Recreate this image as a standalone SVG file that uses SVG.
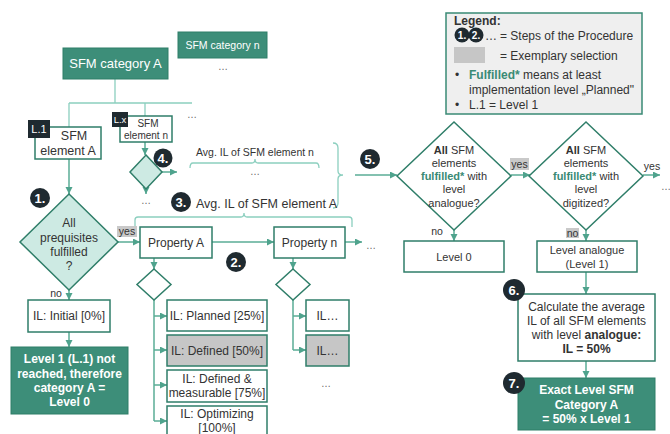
<svg xmlns="http://www.w3.org/2000/svg" width="670" height="434" viewBox="0 0 670 434">
<defs>
<marker id="arr" markerUnits="userSpaceOnUse" markerWidth="8" markerHeight="8" refX="7" refY="3.5" orient="auto">
<path d="M0,0 L7,3.5 L0,7 z" fill="#4fa38d"/>
</marker>
<style>
text{font-family:"Liberation Sans",Arial,sans-serif;font-size:12px;fill:#333;}
.c{text-anchor:middle;}
.w{fill:#fff;}
.b{font-weight:bold;}
.g{fill:#3a8a75;font-weight:bold;}
.box{fill:#fff;stroke:#2f7e69;stroke-width:1.5;}
.gray{fill:#c6c6c6;stroke:#2f7e69;stroke-width:1.5;}
.dark{fill:#3d8e79;stroke:#2f7e69;stroke-width:1;}
.dia{fill:#cdeae3;stroke:#2f7e69;stroke-width:1.5;}
.wdia{fill:#fff;stroke:#2f7e69;stroke-width:1.5;}
.ln{fill:none;stroke:#5aac96;stroke-width:1.5;}
.lt{fill:none;stroke:#8ccfbf;stroke-width:1.3;}
.a{fill:none;stroke:#5aac96;stroke-width:1.5;marker-end:url(#arr);}
.badge{fill:#1f2a30;}
.bt{fill:#fff;font-weight:bold;font-size:13px;text-anchor:middle;}
.dots{fill:#666;font-size:10px;text-anchor:middle;}
.lbl{fill:#c9c9c9;}
</style>
</defs>
<rect width="670" height="434" fill="#fff"/>

<g id="connectors">
<path class="lt" d="M115,79 V103 M69,103 H192 M69,103 V127 M145,103 V116"/>
<path class="a" d="M69,159 V194"/>
<path class="a" d="M145,142 V155"/>
<path class="a" d="M162,172 H177"/>
<path class="a" d="M146,188 V194"/>
<path class="a" d="M118,242 H140"/>
<path class="a" d="M69,289 V300"/>
<path class="a" d="M69,332 V347"/>
<path class="a" d="M212,242 H274"/>
<path class="a" d="M345,242 H362"/>
<path class="a" d="M154,258 V269"/>
<path class="ln" d="M154,300 V421"/>
<path class="a" d="M154,316 H167"/>
<path class="a" d="M154,350 H167"/>
<path class="a" d="M154,385 H167"/>
<path class="a" d="M154,421 H167"/>
<path class="a" d="M293,258 V269"/>
<path class="ln" d="M293,300 V350"/>
<path class="a" d="M293,316 H306"/>
<path class="a" d="M293,350 H306"/>
<path class="lt" d="M135,227 V220 Q135,217 138,217 H241 Q244,217 244,213 Q244,217 247,217 H349 Q352,217 352,220 V227"/>
<path class="lt" d="M190,168 Q190,163 193,163 H252 Q255,163 255,159 Q255,163 258,163 H316 Q319,163 319,168"/>
<path class="lt" d="M333,143 Q338,143 338,148 V171 Q338,175 343,175 Q338,175 338,179 V203 Q338,208 333,208"/>
<path class="a" d="M355,175 H397"/>
<path class="a" d="M511,175 H530"/>
<path class="a" d="M643,175 H660"/>
<path class="a" d="M454,230 V241"/>
<path class="a" d="M586,230 V241"/>
<path class="a" d="M586,272 V294"/>
<path class="a" d="M586,361 V378"/>
</g>

<g id="cat-n">
<rect x="178" y="32" width="89" height="26" class="dark"/>
<text x="222.5" y="49" class="c w" style="font-size:10.5px">SFM category n</text>
<text x="223" y="70" class="dots">…</text>
</g>

<g id="cat-a">
<rect x="63" y="48" width="105" height="31" class="dark"/>
<text x="115.5" y="68" class="c w" style="font-size:13px">SFM category A</text>
</g>
<text x="192" y="118" class="dots">…</text>

<g id="elem-a">
<rect x="35" y="127" width="66" height="32" class="box"/>
<text x="74" y="140" class="c" style="font-size:12.5px">SFM</text>
<text x="68" y="155" class="c" style="font-size:12.5px">element A</text>
<rect x="28" y="120" width="22" height="18" class="badge"/>
<text x="39" y="133" class="c w" style="font-size:11px">L.1</text>
</g>

<g id="elem-n">
<rect x="120" y="116" width="52" height="26" class="box"/>
<text x="148" y="127" class="c" style="font-size:10px">SFM</text>
<text x="146" y="139" class="c" style="font-size:10px">element n</text>
<rect x="112" y="112" width="16" height="15" class="badge"/>
<text x="120" y="123" class="c w" style="font-size:9.5px">L.x</text>
</g>

<g id="dia4">
<path d="M146,155 L162,172 L146,189 L130,172 Z" class="dia"/>
<text x="146" y="204" class="dots">…</text>
</g>

<g id="avg-n">
<text x="255" y="156" class="c" style="font-size:10.5px">Avg. IL of SFM element n</text>
<text x="255" y="175" class="dots">…</text>
</g>

<g id="avg-a">
<text x="196" y="208" style="font-size:12.5px">Avg. IL of SFM element A</text>
</g>

<g id="dia1">
<path d="M69,194 L118,242 L69,290 L20,242 Z" class="dia"/>
<text x="69" y="227" class="c">All</text>
<text x="69" y="242" class="c">prequisites</text>
<text x="69" y="256" class="c">fulfilled</text>
<text x="69" y="270" class="c">?</text>
<rect x="117" y="226" width="20" height="11" class="lbl"/>
<text x="127" y="235" class="c" style="font-size:10.5px">yes</text>
<text x="56" y="297" class="c" style="font-size:10.5px">no</text>
</g>

<g id="initial">
<rect x="28" y="300" width="82" height="32" class="box"/>
<text x="69" y="320" class="c">IL: Initial [0%]</text>
</g>

<g id="level0-a">
<rect x="11" y="347" width="117" height="67" class="dark"/>
<text x="69.5" y="363" class="c w b">Level 1 (L.1) not</text>
<text x="69.5" y="378" class="c w b">reached, therefore</text>
<text x="69.5" y="392" class="c w b">category A =</text>
<text x="69.5" y="406" class="c w b">Level 0</text>
</g>

<g id="prop-a">
<rect x="140" y="227" width="72" height="31" class="box"/>
<text x="176" y="247" class="c">Property A</text>
</g>

<g id="prop-n">
<rect x="274" y="227" width="71" height="31" class="box"/>
<text x="309.5" y="247" class="c">Property n</text>
<text x="371" y="249" class="dots">…</text>
</g>

<g id="dia-pa"><path d="M154,269 L171,284.5 L154,300 L137,284.5 Z" class="wdia"/></g>
<g id="dia-pn"><path d="M293,269 L310,284.5 L293,300 L276,284.5 Z" class="wdia"/></g>

<g id="il-planned">
<rect x="167" y="300" width="100" height="31" class="box"/>
<text x="217" y="320" class="c">IL: Planned [25%]</text>
</g>
<g id="il-defined">
<rect x="167" y="335" width="100" height="31" class="gray"/>
<text x="217" y="355" class="c">IL: Defined [50%]</text>
</g>
<g id="il-measurable">
<rect x="167" y="370" width="100" height="32" class="box"/>
<text x="217" y="383" class="c">IL: Defined &amp;</text>
<text x="217" y="397" class="c">measurable [75%]</text>
</g>
<g id="il-optimizing">
<rect x="167" y="406" width="100" height="36" class="box"/>
<text x="217" y="418" class="c">IL: Optimizing</text>
<text x="217" y="432" class="c">[100%]</text>
</g>

<g id="il-n1">
<rect x="306" y="300" width="43" height="31" class="box"/>
<text x="327.5" y="320" class="c">IL…</text>
</g>
<g id="il-n2">
<rect x="306" y="335" width="43" height="31" class="gray"/>
<text x="327.5" y="355" class="c">IL…</text>
</g>
<text x="326" y="387" class="dots">…</text>

<g id="dia5a">
<path d="M454,122 L511,176 L454,230 L397,176 Z" class="wdia"/>
<text x="454" y="154" class="c" style="font-size:11px"><tspan class="b">All</tspan> SFM</text>
<text x="454" y="167" class="c" style="font-size:11px">elements</text>
<text x="454" y="180" class="c" style="font-size:11px"><tspan class="g">fulfilled*</tspan> with</text>
<text x="454" y="193" class="c" style="font-size:11px">level</text>
<text x="454" y="207" class="c" style="font-size:11px">analogue?</text>
<text x="437" y="235" class="c" style="font-size:10.5px">no</text>
</g>
<rect x="510" y="158" width="19" height="12" class="lbl"/>
<text x="519.5" y="168" class="c" style="font-size:10.5px">yes</text>

<g id="dia5b">
<path d="M586,122 L643,176 L586,230 L529,176 Z" class="wdia"/>
<text x="586" y="154" class="c" style="font-size:11px"><tspan class="b">All</tspan> SFM</text>
<text x="586" y="167" class="c" style="font-size:11px">elements</text>
<text x="586" y="180" class="c" style="font-size:11px"><tspan class="g">fulfilled*</tspan> with</text>
<text x="586" y="193" class="c" style="font-size:11px">level</text>
<text x="586" y="207" class="c" style="font-size:11px">digitized?</text>
<rect x="566" y="228" width="13" height="10" class="lbl"/>
<text x="572.5" y="237" class="c" style="font-size:10.5px">no</text>
<text x="652" y="170" class="c" style="font-size:10.5px">yes</text>
<text x="666" y="190" class="dots">…</text>
</g>

<g id="level0">
<rect x="404" y="241" width="100" height="31" class="box"/>
<text x="454" y="261" class="c" style="font-size:11px">Level 0</text>
</g>

<g id="level-analogue">
<rect x="537" y="241" width="100" height="31" class="box"/>
<text x="587" y="254" class="c" style="font-size:11px">Level analogue</text>
<text x="587" y="268" class="c" style="font-size:11px">(Level 1)</text>
</g>

<g id="calc">
<rect x="518" y="294" width="137" height="67" class="box"/>
<text x="586.5" y="311" class="c">Calculate the average</text>
<text x="586.5" y="325" class="c">IL of all SFM elements</text>
<text x="586.5" y="339" class="c">with level <tspan class="b">analogue:</tspan></text>
<text x="586.5" y="353" class="c b">IL = 50%</text>
</g>

<g id="exact">
<rect x="518" y="378" width="137" height="52" class="dark"/>
<text x="586.5" y="394" class="c w b">Exact Level SFM</text>
<text x="586.5" y="409" class="c w b">Category A</text>
<text x="586.5" y="423" class="c w b">= 50% x Level 1</text>
</g>

<g id="badges">
<circle cx="40" cy="198" r="10" class="badge"/><text x="40" y="203" class="bt">1.</text>
<circle cx="236" cy="262" r="10" class="badge"/><text x="236" y="267" class="bt">2.</text>
<circle cx="181" cy="202" r="10" class="badge"/><text x="181" y="207" class="bt">3.</text>
<circle cx="163" cy="158" r="9.5" class="badge"/><text x="163" y="163" class="bt">4.</text>
<circle cx="370" cy="159" r="10" class="badge"/><text x="370" y="164" class="bt">5.</text>
<circle cx="514" cy="290" r="11" class="badge"/><text x="514" y="295" class="bt">6.</text>
<circle cx="514" cy="383" r="11" class="badge"/><text x="514" y="388" class="bt">7.</text>
</g>

<g id="legend">
<rect x="446" y="13" width="196" height="101" fill="#efefef" stroke="#3a8a75" stroke-width="1.5"/>
<text x="454" y="25" class="b">Legend:</text>
<circle cx="462" cy="35" r="7.5" class="badge"/><text x="462" y="39" class="bt" style="font-size:10px">1.</text>
<circle cx="476" cy="35" r="7.5" class="badge"/><text x="476" y="39" class="bt" style="font-size:10px">2.</text>
<text x="485" y="40">…</text>
<text x="500" y="40">= Steps of the Procedure</text>
<rect x="454" y="47" width="31" height="16" fill="#c6c6c6"/>
<text x="500" y="60">= Exemplary selection</text>
<text x="455" y="79">•</text>
<text x="469" y="79"><tspan class="g">Fulfilled*</tspan> means at least</text>
<text x="469" y="94">implementation level „Planned"</text>
<text x="455" y="109">•</text>
<text x="469" y="109">L.1 = Level 1</text>
</g>
</svg>
